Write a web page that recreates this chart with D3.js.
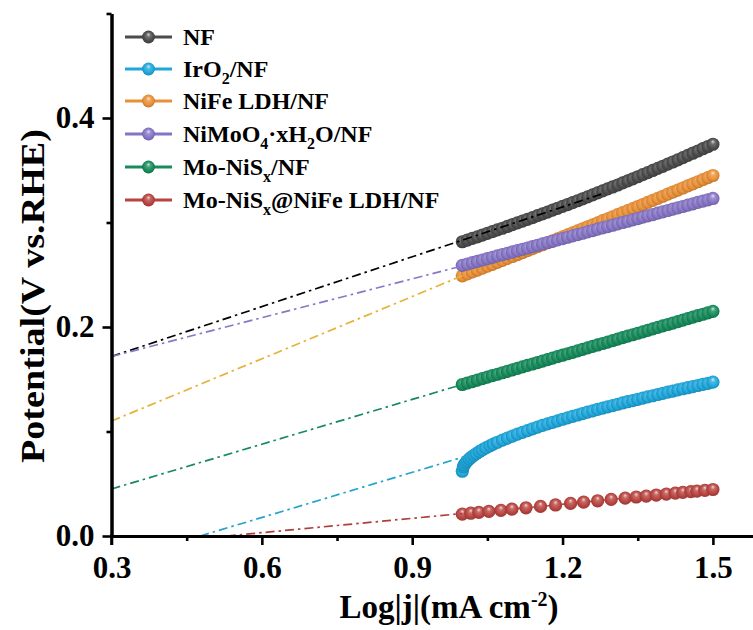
<!DOCTYPE html>
<html>
<head>
<meta charset="utf-8">
<script src="https://cdn.jsdelivr.net/npm/d3@7"></script>
<style>
  body { margin: 0; background: #fff; }
  svg { display: block; }
  text { font-family: "Liberation Serif", "Times New Roman", serif; font-weight: bold; fill: #000; }
</style>
</head>
<body>
<svg id="chart" width="753" height="630"></svg>
<script>
// log|j| grid shared by the densely sampled polarization curves
const logJ = [1.00, 1.01, 1.02, 1.03, 1.04, 1.05, 1.06, 1.07, 1.08, 1.09,
              1.10, 1.11, 1.12, 1.13, 1.14, 1.15, 1.16, 1.17, 1.18, 1.19,
              1.20, 1.21, 1.22, 1.23, 1.24, 1.25, 1.26, 1.27, 1.28, 1.29,
              1.30, 1.31, 1.32, 1.33, 1.34, 1.35, 1.36, 1.37, 1.38, 1.39,
              1.40, 1.41, 1.42, 1.43, 1.44, 1.45, 1.46, 1.47, 1.48, 1.49, 1.50];

// Potential (V vs. RHE) for each catalyst
const nfPotential = [0.2816, 0.2832, 0.2848, 0.2863, 0.2880, 0.2896, 0.2912, 0.2929, 0.2945, 0.2962,
                     0.2979, 0.2996, 0.3013, 0.3030, 0.3047, 0.3065, 0.3082, 0.3100, 0.3118, 0.3136,
                     0.3154, 0.3172, 0.3190, 0.3208, 0.3227, 0.3245, 0.3264, 0.3283, 0.3302, 0.3321,
                     0.3340, 0.3359, 0.3379, 0.3398, 0.3418, 0.3438, 0.3458, 0.3478, 0.3498, 0.3518,
                     0.3538, 0.3559, 0.3579, 0.3600, 0.3621, 0.3642, 0.3663, 0.3684, 0.3706, 0.3727, 0.3749];

// IrO2 rises steeply at onset, so its low-current end is sampled more finely
const iro2LogJ = [1.000, 1.002, 1.004, 1.007, 1.010, 1.014, 1.018, 1.023, 1.028, 1.034, 1.040, 1.047,
                  1.055, 1.062, 1.07, 1.08, 1.09, 1.10, 1.11, 1.12, 1.13, 1.14, 1.15, 1.16, 1.17, 1.18, 1.19,
                  1.20, 1.21, 1.22, 1.23, 1.24, 1.25, 1.26, 1.27, 1.28, 1.29,
                  1.30, 1.31, 1.32, 1.33, 1.34, 1.35, 1.36, 1.37, 1.38, 1.39,
                  1.40, 1.41, 1.42, 1.43, 1.44, 1.45, 1.46, 1.47, 1.48, 1.49, 1.50];
const iro2Potential = [0.0620, 0.0663, 0.0682, 0.0702, 0.0719, 0.0737, 0.0754, 0.0772, 0.0789, 0.0807, 0.0824, 0.0843,
                       0.0863, 0.0879, 0.0897, 0.0918, 0.0937, 0.0956, 0.0975, 0.0992, 0.1009, 0.1026, 0.1042, 0.1058, 0.1073, 0.1088, 0.1102,
                       0.1117, 0.1131, 0.1145, 0.1158, 0.1172, 0.1185, 0.1198, 0.1211, 0.1223, 0.1236,
                       0.1248, 0.1261, 0.1273, 0.1285, 0.1296, 0.1308, 0.1320, 0.1331, 0.1342, 0.1354,
                       0.1365, 0.1376, 0.1387, 0.1398, 0.1409, 0.1419, 0.1430, 0.1440, 0.1451, 0.1461, 0.1472];

const nifePotential = [0.2490, 0.2508, 0.2527, 0.2545, 0.2563, 0.2582, 0.2600, 0.2619, 0.2638, 0.2656,
                       0.2675, 0.2693, 0.2712, 0.2731, 0.2750, 0.2769, 0.2787, 0.2806, 0.2825, 0.2844,
                       0.2863, 0.2882, 0.2901, 0.2920, 0.2940, 0.2959, 0.2978, 0.2997, 0.3017, 0.3036,
                       0.3055, 0.3075, 0.3094, 0.3114, 0.3133, 0.3153, 0.3172, 0.3192, 0.3211, 0.3231,
                       0.3251, 0.3271, 0.3290, 0.3310, 0.3330, 0.3350, 0.3370, 0.3390, 0.3410, 0.3430, 0.3450];

const nimoo4Potential = [0.2590, 0.2603, 0.2616, 0.2628, 0.2641, 0.2654, 0.2667, 0.2680, 0.2692, 0.2705,
                         0.2718, 0.2731, 0.2744, 0.2756, 0.2769, 0.2782, 0.2795, 0.2808, 0.2820, 0.2833,
                         0.2846, 0.2859, 0.2872, 0.2884, 0.2897, 0.2910, 0.2923, 0.2936, 0.2948, 0.2961,
                         0.2974, 0.2987, 0.3000, 0.3012, 0.3025, 0.3038, 0.3051, 0.3064, 0.3076, 0.3089,
                         0.3102, 0.3115, 0.3128, 0.3140, 0.3153, 0.3166, 0.3179, 0.3192, 0.3204, 0.3217, 0.3230];

const moNisPotential = [0.1450, 0.1464, 0.1478, 0.1492, 0.1506, 0.1520, 0.1534, 0.1548, 0.1562, 0.1576,
                        0.1590, 0.1604, 0.1618, 0.1632, 0.1646, 0.1660, 0.1674, 0.1688, 0.1702, 0.1716,
                        0.1730, 0.1744, 0.1758, 0.1772, 0.1786, 0.1800, 0.1814, 0.1828, 0.1842, 0.1856,
                        0.1870, 0.1884, 0.1898, 0.1912, 0.1926, 0.1940, 0.1954, 0.1968, 0.1982, 0.1996,
                        0.2010, 0.2024, 0.2038, 0.2052, 0.2066, 0.2080, 0.2094, 0.2108, 0.2122, 0.2136, 0.2150];

// Heterostructure sampled more sparsely
const heteroLogJ = [1.000, 1.017, 1.033, 1.053, 1.077, 1.099, 1.127, 1.156, 1.186, 1.216, 1.242, 1.270,
                    1.297, 1.325, 1.347, 1.367, 1.387, 1.407, 1.425, 1.440, 1.456, 1.468, 1.484, 1.500];
const heteroPotential = [0.0210, 0.0218, 0.0226, 0.0235, 0.0246, 0.0257, 0.0270, 0.0283, 0.0297, 0.0312, 0.0324, 0.0337,
                         0.0350, 0.0363, 0.0373, 0.0382, 0.0392, 0.0401, 0.0410, 0.0417, 0.0424, 0.0430, 0.0437, 0.0445];

// Tafel fit lines extrapolated toward low current, as [logJ, potential] end points
const nfFit      = [[0.30, 0.1718], [1.28, 0.3276]];
const iro2Fit    = [[0.477, 0.0], [1.02, 0.0782]];
const nifeFit    = [[0.30, 0.1100], [1.00, 0.2490]];
const nimoo4Fit  = [[0.30, 0.1718], [1.00, 0.2585]];
const moNisFit   = [[0.30, 0.0450], [1.00, 0.1450]];
const heteroFit  = [[0.530, 0.0], [1.00, 0.0215]];

// Legend labels, split into runs so subscripts can be set
const labels = [
  [["NF", ""]],
  [["IrO", ""], ["2", "sub"], ["/NF", ""]],
  [["NiFe LDH/NF", ""]],
  [["NiMoO", ""], ["4", "sub"], ["\u00B7xH", ""], ["2", "sub"], ["O/NF", ""]],
  [["Mo-NiS", ""], ["x", "sub"], ["/NF", ""]],
  [["Mo-NiS", ""], ["x", "sub"], ["@NiFe LDH/NF", ""]]
];
const markerColors = ["#4b4b4b", "#1ea7dc", "#ea9036", "#8675c6", "#168b5b", "#b8433f"];
const fitColors    = ["#000000", "#22a5cc", "#e6b23a", "#8878c6", "#178a5e", "#b03c3c"];

const xMajor = [0.3, 0.6, 0.9, 1.2, 1.5];
const xMinor = [0.45, 0.75, 1.05, 1.35];
const yMajor = [0.0, 0.2, 0.4];
const yMinor = [0.1, 0.3, 0.5];

const series = [
  { x: logJ, y: nfPotential, fit: nfFit },
  { x: iro2LogJ, y: iro2Potential, fit: iro2Fit },
  { x: logJ, y: nifePotential, fit: nifeFit },
  { x: logJ, y: nimoo4Potential, fit: nimoo4Fit },
  { x: logJ, y: moNisPotential, fit: moNisFit },
  { x: heteroLogJ, y: heteroPotential, fit: heteroFit }
];

const svg = d3.select("#chart");
const x = d3.scaleLinear().domain([0.3, 1.58]).range([111.5, 753]);
const y = d3.scaleLinear().domain([0, 0.5]).range([536, 13.5]);

// shaded sphere fills for the markers
const defs = svg.append("defs");
markerColors.forEach((c, i) => {
  const g = defs.append("radialGradient")
    .attr("id", "ball" + i)
    .attr("cx", "50%").attr("cy", "50%").attr("r", "55%")
    .attr("fx", "50%").attr("fy", "28%");
  g.append("stop").attr("offset", "0%").attr("stop-color", d3.interpolateRgb(c, "#fff")(0.8));
  g.append("stop").attr("offset", "30%").attr("stop-color", d3.interpolateRgb(c, "#fff")(0.2));
  g.append("stop").attr("offset", "70%").attr("stop-color", c);
  g.append("stop").attr("offset", "100%").attr("stop-color", d3.color(c).darker(0.7));
});

const line = d3.line().x(d => x(d[0])).y(d => y(d[1]));
const plot = svg.append("g");

series.forEach((s, i) => {
  const pts = s.x.map((v, k) => [v, s.y[k]]);
  plot.append("path")
    .attr("d", line(pts))
    .attr("fill", "none")
    .attr("stroke", markerColors[i])
    .attr("stroke-width", 1.6);
  plot.append("g").selectAll("circle")
    .data(pts)
    .join("circle")
    .attr("cx", d => x(d[0]))
    .attr("cy", d => y(d[1]))
    .attr("r", 6.6)
    .attr("fill", `url(#ball${i})`);
});

series.forEach((s, i) => {
  plot.append("path")
    .attr("d", line(s.fit))
    .attr("fill", "none")
    .attr("stroke", fitColors[i])
    .attr("stroke-width", 1.7)
    .attr("stroke-dasharray", "9,4,2.5,4");
});

// axes
function styleAxis(g) {
  g.select(".domain").attr("stroke", "#000").attr("stroke-width", 3);
  g.selectAll(".tick line").attr("stroke", "#000").attr("stroke-width", 2.6);
  g.selectAll("text").style("font-size", "31px").attr("font-family", null).attr("fill", "#000");
}

const xAxis = svg.append("g").attr("transform", "translate(0,536)")
  .call(d3.axisBottom(x).tickValues(xMajor).tickSize(9).tickSizeOuter(0).tickPadding(11).tickFormat(d3.format(".1f")));
styleAxis(xAxis);
const xAxisMinor = svg.append("g").attr("transform", "translate(0,536)")
  .call(d3.axisBottom(x).tickValues(xMinor).tickSize(5).tickSizeOuter(0).tickFormat(""));
styleAxis(xAxisMinor);

const yAxis = svg.append("g").attr("transform", "translate(111.5,0)")
  .call(d3.axisLeft(y).tickValues(yMajor).tickSize(9).tickSizeOuter(0).tickPadding(8).tickFormat(d3.format(".1f")));
styleAxis(yAxis);
const yAxisMinor = svg.append("g").attr("transform", "translate(111.5,0)")
  .call(d3.axisLeft(y).tickValues(yMinor).tickSize(5).tickSizeOuter(0).tickFormat(""));
styleAxis(yAxisMinor);

// y axis runs slightly past the origin
svg.append("line").attr("x1", 111.5).attr("x2", 111.5).attr("y1", 534).attr("y2", 545)
  .attr("stroke", "#000").attr("stroke-width", 2.6);

// axis titles
svg.append("text")
  .attr("transform", "translate(44,296) rotate(-90)")
  .attr("text-anchor", "middle")
  .attr("textLength", 334)
  .attr("lengthAdjust", "spacingAndGlyphs")
  .style("font-size", "34px")
  .text("Potential(V vs.RHE)");

const xt = svg.append("text")
  .attr("x", 449).attr("y", 618)
  .attr("text-anchor", "middle")
  .style("font-size", "33px");
xt.append("tspan").text("Log|j|(mA cm");
xt.append("tspan").attr("dy", -12).style("font-size", "20px").text("-2");
xt.append("tspan").attr("dy", 12).text(")");

// legend
const legend = svg.append("g");
const rowY = [37, 69, 101, 134, 167, 200];
labels.forEach((parts, i) => {
  const g = legend.append("g").attr("transform", `translate(0,${rowY[i]})`);
  g.append("line").attr("x1", 125).attr("x2", 172).attr("y1", 0).attr("y2", 0)
    .attr("stroke", markerColors[i]).attr("stroke-width", 3);
  g.append("circle").attr("cx", 148.5).attr("cy", 0).attr("r", 6.4).attr("fill", `url(#ball${i})`);
  const t = g.append("text").attr("x", 183).attr("y", 8).style("font-size", "24px");
  let shifted = false;
  parts.forEach(([txt, kind]) => {
    const sp = t.append("tspan").text(txt);
    if (kind === "sub") {
      sp.attr("dy", 7).style("font-size", "16px");
      shifted = true;
    } else if (shifted) {
      sp.attr("dy", -7);
      shifted = false;
    }
  });
});
</script>
</body>
</html>
